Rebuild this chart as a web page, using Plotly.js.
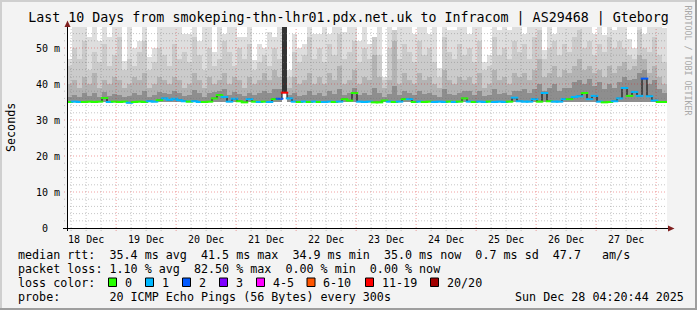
<!DOCTYPE html>
<html><head><meta charset="utf-8">
<script src="https://cdn.plot.ly/plotly-3.0.1.min.js"></script>
<style>html,body{margin:0;padding:0;background:#f3f3f3;}#chart{width:697px;height:310px;}</style>
</head><body><div id="chart"></div>
<script>
// ---------------- data ----------------
const titleText = 'Last 10 Days from smokeping-thn-lhr01.pdx.net.uk to Infracom | AS29468 | Gteborg';
const startUTC = [2025, 11, 18, 4, 20, 44];   // Dec 18 04:20:44
const binHours = 2;
const dayLabels = ['18 Dec','19 Dec','20 Dec','21 Dec','22 Dec','23 Dec','24 Dec','25 Dec','26 Dec','27 Dec'];
const dayNoon = ['2025-12-18 12:00','2025-12-19 12:00','2025-12-20 12:00','2025-12-21 12:00','2025-12-22 12:00',
                 '2025-12-23 12:00','2025-12-24 12:00','2025-12-25 12:00','2025-12-26 12:00','2025-12-27 12:00'];
const yTickVals = [0, 10, 20, 30, 40, 50];
const yTickText = ['0\u00a0\u00a0', '10 m', '20 m', '30 m', '40 m', '50 m'];

// smoke: min rtt (base) and layer tops, ms
const minRtt = [
34.9,34.9,34.9,34.9,34.9,34.9,34.9,34.9,34.9,34.9,
34.9,34.9,34.7,34.9,34.9,34.9,34.9,34.9,34.9,34.9,
34.9,34.9,34.9,34.9,34.9,34.9,34.9,34.9,34.9,34.9,
34.9,34.9,34.9,34.9,34.9,34.8,34.9,34.9,34.9,34.9,
34.9,34.9,34.9,37.4,34.9,34.9,34.9,34.9,34.9,34.9,
34.9,34.9,34.9,34.9,34.9,34.9,34.9,34.9,34.9,34.9,
34.9,34.8,34.8,34.9,34.9,34.9,34.9,34.9,34.9,34.9,
34.9,34.9,34.9,34.9,34.9,34.9,34.9,34.9,34.9,34.9,
34.9,34.9,34.9,34.9,34.9,34.9,34.9,34.9,34.9,34.9,
34.9,34.9,34.9,34.9,34.9,34.9,34.9,34.9,34.9,34.9,
34.9,34.9,34.9,34.9,34.9,34.9,34.9,34.8,34.9,34.9,
34.9,34.9,34.9,34.9,34.9,34.9,34.9,34.9,34.9,34.9];
const smokeTop = [
47,56,56,56,53,56,52,56,53,56,
56,46.5,56,50,52,56,47.5,50,56,56,
56,56,56,54,54,56,52,56,56,49,
56,54,56,56,53,53,56,46.7,51,50,
54.5,53,56,56,44,54,50,51,56,54,
54,56,54,56,56,54.5,56,56,52,56,
51,52,56,42,56,54.5,56,56,56,54,
56,56,54,56,44.4,56,55,55,56,56,
54,56,56,46,48,56,55,56,55,56,
56,54,56,56,56,49.5,56,54,56,56,
56,56,56,56,56,54,56,53.5,56,55,
56,56,52.5,50,56,54,56,56,56,55.5];
const smokeHigh = [
45,50,47,52,44,49,46,51,45,48,
53,44,47,45,49,52,44,46,50,48,
45,51,47,49,46,53,48,44,50,45,
47,52,49,45,50,47,51,44,46,48,
45,50,47,56,42,49,46,48,53,47,
50,46,51,48,54,47,49,52,46,50,
47,53,48,41,50,55,47,51,49,46,
52,48,50,46,42,53,49,47,51,48,
50,46,52,44,45,53,48,50,47,52,
49,51,47,53,55,47,50,52,48,51,
49,53,55,50,52,48,51,49,53,50,
52,50,48,47,55,50,49,53,48,46];
const smokeMid = [
40,41,39,42,40,43,39,41,40,42,
41,39,40,42,41,43,39,40,42,41,
40,42,41,39,40,43,41,39,42,40,
41,43,40,42,41,39,42,40,41,43,
41,44,42,56,39,42,40,41,43,40,
42,40,43,41,45,40,41,44,40,42,
41,48,42,39,41,52,40,43,41,40,
43,41,42,40,39,44,41,40,42,41,
42,40,43,39,40,44,41,42,40,43,
42,43,41,44,47,42,43,45,42,44,
43,45,47,44,45,43,44,42,45,43,
45,46,44,45,48,47,43,45,42,40];
const smokeLow = [
36.5,37,36.5,37.5,36.8,37.5,36.5,37.8,36.8,37.2,
37,36.5,36.8,37.5,37,38,36.5,37,37.8,37.5,
37.2,38,37.5,36.8,37,38.2,37.5,36.5,37.5,37.8,
38,38.5,37,37.8,37.2,36.8,37.5,37,37.5,38,
37.5,38.5,38.5,56,37,37.5,36.8,37,38,37,
37.5,36.8,38,37.2,38.5,37,37.5,38.8,37,37.5,
37,39,37.5,36.5,37.2,39.5,37,38,37.5,37,
38,37.2,37.5,37,36.5,38.5,37.2,37,37.5,38,
38,37,38,36.8,37,38.5,37.2,37.5,37,38,
38,38.5,37.5,38.5,40,38,39,40,38,39,
39,40.5,41,40,41.5,39.5,40.5,38.5,40,39,
40.5,42,41,41.5,43,44,40,41,38.5,37.5];

// median rtt (ms) and lost pings (of 20) per bin
const medianRtt = [
35.0,35.1,35.0,35.0,35.1,35.0,35.1,36.1,35.0,35.1,
35.0,35.1,34.8,35.0,35.1,35.0,35.2,35.1,35.5,36.0,
35.6,35.9,35.5,35.2,35.1,35.2,35.0,35.0,35.1,36.0,
36.9,36.4,35.1,35.9,35.2,34.9,35.8,35.1,35.0,35.1,
35.0,35.8,35.9,37.6,36.0,35.1,35.0,35.1,35.0,35.1,
35.0,35.0,35.1,35.0,35.1,35.8,35.4,37.5,35.1,35.0,
35.1,34.9,34.9,35.4,35.1,35.0,35.1,35.8,35.8,35.0,
35.1,35.0,35.1,35.0,35.1,35.0,35.1,35.0,35.1,36.0,
35.1,35.0,35.1,35.0,35.1,35.0,35.1,35.0,35.1,36.2,
35.2,35.1,35.1,35.8,35.1,37.5,35.2,35.1,35.1,35.8,
35.8,36.4,36.6,37.5,35.8,36.7,35.1,34.9,35.0,35.2,
36.0,38.9,36.7,37.8,36.7,41.5,36.6,35.4,35.0,35.0];
const lossCount = [
0,1,1,0,0,0,0,0,1,0,
0,0,1,0,0,0,1,1,0,1,
1,1,1,1,0,1,1,0,0,0,
0,1,1,1,0,0,1,0,1,0,
1,0,2,12,1,1,0,1,0,1,
0,1,1,0,1,0,0,0,1,1,
1,0,0,0,1,0,1,0,1,0,
1,0,0,1,1,1,0,1,0,0,
1,0,1,1,0,1,1,1,0,1,
1,1,1,1,0,1,0,1,1,1,
0,1,1,0,1,1,1,0,0,1,
1,1,0,1,1,2,1,1,0,0];

const rttStats = [35.4, 41.5, 34.9, 35.0, 0.7, 47.7];   // avg, max, min, now, sd, am/s
const lossStats = [1.10, 82.50, 0.00, 0.00];            // avg, max, min, now (%)
const lossLegend = ['0','1','2','3','4-5','6-10','11-19','20/20'];
const lossLegendMin = [0, 1, 2, 3, 4, 6, 11, 20];
const lossColors = ['#26ff00','#00b8ff','#0059ff','#7e00ff','#ff00ff','#ff5500','#ff0000','#a10000'];
const probeText = '20 ICMP Echo Pings (56 Bytes) every 300s';
const stampText = 'Sun Dec 28 04:20:44 2025';

// ---------------- build ----------------
const HOUR = 3600000;
const t0 = Date.UTC(...startUTC);
const nBins = medianRtt.length;
const binCenters = [], binStarts = [];
for (let i = 0; i < nBins; i++) {
  binStarts.push(t0 + i * binHours * HOUR);
  binCenters.push(t0 + (i + 0.5) * binHours * HOUR);
}
const tEnd = t0 + nBins * binHours * HOUR;

function lossColor(n) {
  let k = 0;
  for (let j = 0; j < lossLegendMin.length; j++) if (n >= lossLegendMin[j]) k = j;
  return lossColors[k];
}

// pixel helpers (plot area: x 67..667, y 27..228)
const L = 67, R = 30, T = 27, B = 82, W = 697, H = 310;
const PW = W - L - R, PH = H - T - B;
const px = v => (v - L) / PW;
const py = v => (H - B - v) / PH;

const smokeLayers = [
  {vals: smokeTop,  color: '#dedede'},
  {vals: smokeHigh, color: '#cbcbcb'},
  {vals: smokeMid,  color: '#b3b3b3'},
  {vals: smokeLow,  color: '#8e8e8e'}
];
const traces = smokeLayers.map(l => ({
  type: 'bar', x: binCenters, base: minRtt,
  y: l.vals.map((v, i) => Math.max(0, v - minRtt[i])),
  width: binHours * HOUR,
  marker: {color: lossCount.map(n => n >= 11 ? '#333333' : l.color), line: {width: 0}},
  hoverinfo: 'skip', showlegend: false
}));
traces.push({
  type: 'scatter', mode: 'lines', x: binStarts.concat([tEnd]),
  y: medianRtt.concat([medianRtt[nBins - 1]]),
  line: {shape: 'hv', color: '#000000', width: 1}, hoverinfo: 'skip', showlegend: false
});
traces.push({
  type: 'scatter', mode: 'markers', x: binCenters, y: medianRtt,
  marker: {symbol: 'line-ew', size: 5.4, color: lossCount.map(lossColor),
           line: {width: 2, color: lossCount.map(lossColor)}},
  hoverinfo: 'skip', showlegend: false
});

const shapes = [];
const majorGrid = 'rgba(222,31,31,0.42)', minorGrid = 'rgba(120,120,120,0.42)';
// x grid: every 6 h, red at midnight
for (let d = 18; d <= 28; d++) {
  for (let h = 0; h < 24; h += 6) {
    const t = Date.UTC(2025, 11, d, h);
    if (t <= t0 || t >= tEnd) continue;
    shapes.push({type: 'line', xref: 'x', yref: 'paper', x0: t, x1: t, y0: py(231), y1: 1,
      layer: 'above', line: {color: h === 0 ? majorGrid : minorGrid, width: 1, dash: '1px,2px'}});
  }
}
// y grid: every 2 ms, red every 10 ms
for (let v = 2; v < 56; v += 2) {
  shapes.push({type: 'line', xref: 'paper', yref: 'y', x0: px(64), x1: 1, y0: v, y1: v,
    layer: 'above', line: {color: v % 10 === 0 ? majorGrid : minorGrid, width: 1, dash: '1px,2px'}});
}
// axes + arrows
shapes.push({type: 'line', xref: 'paper', yref: 'paper', x0: px(67.5), x1: px(67.5), y0: py(231), y1: py(22),
  layer: 'above', line: {color: '#000', width: 1}});
shapes.push({type: 'line', xref: 'paper', yref: 'paper', x0: px(63), x1: px(669), y0: py(228.5), y1: py(228.5),
  layer: 'above', line: {color: '#000', width: 1}});
const tri = pts => 'M' + pts.map(p => px(p[0]) + ',' + py(p[1])).join('L') + 'Z';
shapes.push({type: 'path', xref: 'paper', yref: 'paper', path: tri([[64.5,27],[70.5,27],[67.5,20.5]]),
  fillcolor: '#7f1f1f', line: {width: 0}, layer: 'above'});
shapes.push({type: 'path', xref: 'paper', yref: 'paper', path: tri([[668,225.5],[668,231.5],[674.5,228.5]]),
  fillcolor: '#7f1f1f', line: {width: 0}, layer: 'above'});
// frame bevel
const rectPx = (x0, y0, x1, y1, c) => shapes.push({type: 'rect', xref: 'paper', yref: 'paper',
  x0: px(x0), x1: px(x1), y0: py(y0), y1: py(y1), fillcolor: c, line: {width: 0}, layer: 'above'});
rectPx(0, 0, 697, 2, '#cfcfcf');
rectPx(0, 0, 2, 310, '#cfcfcf');
rectPx(695, 0, 697, 310, '#9e9e9e');
rectPx(0, 308, 697, 310, '#9e9e9e');

// legend
const nb = s => s.replace(/ /g, '\u00a0');
const mono = 'DejaVu Sans Mono';
const legFont = {family: mono, size: 11.7, color: '#000'};
const ann = [];
const addText = (x, y, text, extra) => ann.push(Object.assign({xref: 'paper', yref: 'paper',
  x: px(x), y: py(y), xanchor: 'left', yanchor: 'middle', showarrow: false, text: nb(text), font: legFont}, extra || {}));
addText(16, 254.5, 'median rtt:  ' + rttStats[0].toFixed(1) + ' ms avg  ' + rttStats[1].toFixed(1) + ' ms max  ' +
  rttStats[2].toFixed(1) + ' ms min  ' + rttStats[3].toFixed(1) + ' ms now  ' + rttStats[4].toFixed(1) + ' ms sd  ' +
  rttStats[5].toFixed(1) + '   am/s');
addText(16, 268.5, 'packet loss: ' + lossStats[0].toFixed(2) + ' % avg  ' + lossStats[1].toFixed(2) + ' % max  ' +
  lossStats[2].toFixed(2) + ' % min  ' + lossStats[3].toFixed(2) + ' % now');
addText(16, 282.5, 'loss color:');
addText(16, 296.5, 'probe:       ' + probeText);
addText(513, 296.5, stampText);
const boxX = [108.5, 145.5, 182.5, 219.5, 256.5, 307, 365.5, 430.5];
lossLegend.forEach((lab, k) => {
  shapes.push({type: 'rect', xref: 'paper', yref: 'paper', x0: px(boxX[k]), x1: px(boxX[k] + 8),
    y0: py(278), y1: py(286.5), fillcolor: lossColors[k], line: {color: '#000', width: 1}, layer: 'above'});
  addText(boxX[k] + 14, 282.5, lab);
});
ann.push({xref: 'paper', yref: 'paper', x: px(687.5), y: py(60), xanchor: 'center', yanchor: 'middle',
  showarrow: false, textangle: 90, text: nb('RRDTOOL / TOBI OETIKER'),
  font: {family: mono, size: 8.3, color: '#a8a8a8'}});
ann.push({xref: 'paper', yref: 'paper', x: px(10.5), y: py(127.5), xanchor: 'center', yanchor: 'middle',
  showarrow: false, textangle: -90, text: 'Seconds', font: {family: mono, size: 11.7, color: '#000'}});

const layout = {
  width: W, height: H, margin: {l: L, r: R, t: T, b: B, pad: 0},
  paper_bgcolor: '#f3f3f3', plot_bgcolor: '#ffffff',
  title: {text: titleText, font: {family: mono, size: 13.3, color: '#000'},
          x: 0.5, xref: 'container', xanchor: 'center', y: 1 - 17.5 / H, yref: 'container', yanchor: 'middle'},
  barmode: 'overlay', bargap: 0, showlegend: false,
  xaxis: {type: 'date', range: [t0, tEnd], tickmode: 'array', tickvals: dayNoon, ticktext: dayLabels,
          showgrid: false, zeroline: false, showline: false, ticks: '', ticklabelstandoff: 4,
          tickfont: {family: mono, size: 10, color: '#000'}, fixedrange: true},
  yaxis: {range: [0, PH / 3.6], tickmode: 'array', tickvals: yTickVals, ticktext: yTickText,
          showgrid: false, zeroline: false, showline: false, ticks: '', ticklabelstandoff: 6,
          tickfont: {family: mono, size: 10, color: '#000'}, fixedrange: true},
  shapes: shapes, annotations: ann
};
Plotly.newPlot('chart', traces, layout, {staticPlot: true, displayModeBar: false});
</script></body></html>
